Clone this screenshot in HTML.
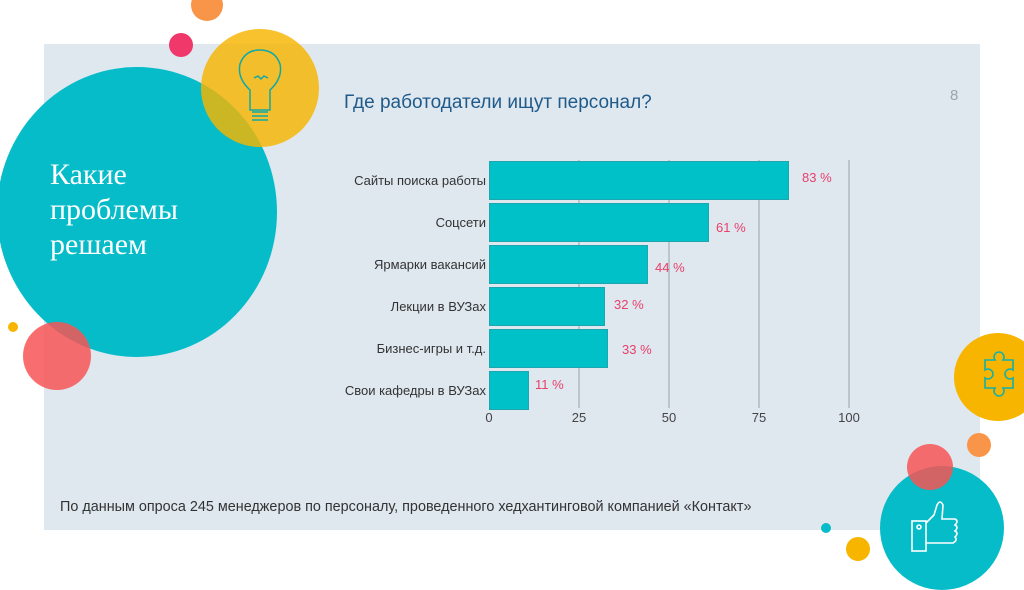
<!DOCTYPE html>
<html><head><meta charset="utf-8"><style>
body{margin:0;width:1024px;height:574px;background:#fff;position:relative;overflow:hidden;font-family:"Liberation Sans","DejaVu Sans",sans-serif}
.a{position:absolute}
.c{position:absolute;border-radius:50%}
</style></head><body>
<div class="a" style="left:44px;top:44px;width:936px;height:486px;background:#dfe7ef"></div>
<div class="c" style="left:-3px;top:67px;width:280px;height:290px;background:#06bcc8"></div>
<div class="c" style="left:201px;top:29px;width:118px;height:118px;background:rgba(247,181,0,0.82)"></div>
<div class="c" style="left:169px;top:33px;width:24px;height:24px;background:#f0386b"></div>
<div class="c" style="left:191px;top:-11px;width:32px;height:32px;background:#f99548"></div>
<div class="c" style="left:23px;top:322px;width:68px;height:68px;background:rgba(247,85,85,0.85)"></div>
<div class="c" style="left:8px;top:322px;width:10px;height:10px;background:#f7b500"></div>
<div class="c" style="left:954px;top:333px;width:88px;height:88px;background:#f7b500"></div>
<div class="c" style="left:967px;top:433px;width:24px;height:24px;background:#f99548"></div>
<div class="c" style="left:880px;top:466px;width:124px;height:124px;background:#06bcc8"></div>
<div class="c" style="left:907px;top:444px;width:46px;height:46px;background:rgba(247,85,85,0.85)"></div>
<div class="c" style="left:821px;top:523px;width:10px;height:10px;background:#06bcc8"></div>
<div class="c" style="left:846px;top:537px;width:24px;height:24px;background:#f7b500"></div>
<svg class="a" style="left:0;top:0" width="1024" height="574">
<g fill="none" stroke="#10a8a8" stroke-width="1.5">
<path d="M250 110 L250 90 Q237 78 240 64 Q245 50 260 50 Q275 50 280 64 Q283 78 270 90 L270 110 Z"/>
<path d="M252 112h16M252 116h16M252 120h16M254 78 l4 -2 3 3 3 -3 4 2"/>
</g>
<g fill="none" stroke="#10b0b0" stroke-width="1.6">
<path d="M985 360 h10 a5 5 0 1 1 8 0 h10 v10 a5 5 0 1 0 0 8 v10 h-10 a5 5 0 1 1 -8 0 h-10 v-10 a5 5 0 1 0 0 -8 z"/>
</g>
<g fill="none" stroke="#fff" stroke-width="1.6">
<rect x="912" y="521" width="14" height="30"/><circle cx="919" cy="527" r="2"/>
<path d="M926 523 l8 -8 l3 -10 q3 -6 6 0 l-1 14 h13 q4 2 0 6 q4 2 0 6 q4 2 0 6 q3 3 -2 6 h-27"/>
</g>
<g stroke="#aab3bb" stroke-width="1.3">
<line x1="579" y1="160" x2="579" y2="408"/><line x1="669" y1="160" x2="669" y2="408"/>
<line x1="759" y1="160" x2="759" y2="408"/><line x1="849" y1="160" x2="849" y2="408"/>
</g>
<g fill="#00c0c8" stroke="#1fa5ad" stroke-width="1">
<rect x="489.5" y="161.5" width="299" height="38"/>
<rect x="489.5" y="203.5" width="219" height="38"/>
<rect x="489.5" y="245.5" width="158" height="38"/>
<rect x="489.5" y="287.5" width="115" height="38"/>
<rect x="489.5" y="329.5" width="118" height="38"/>
<rect x="489.5" y="371.5" width="39" height="38"/>
</g>
<g font-family="Liberation Sans,sans-serif" font-size="13" fill="#333" text-anchor="end">
<text x="486" y="185">Сайты поиска работы</text>
<text x="486" y="227">Соцсети</text>
<text x="486" y="269">Ярмарки вакансий</text>
<text x="486" y="311">Лекции в ВУЗах</text>
<text x="486" y="353">Бизнес-игры и т.д.</text>
<text x="486" y="395">Свои кафедры в ВУЗах</text>
</g>
<g font-family="Liberation Sans,sans-serif" font-size="13" fill="#e8406a">
<text x="802" y="182">83 %</text><text x="716" y="232">61 %</text>
<text x="655" y="272">44 %</text><text x="614" y="309">32 %</text>
<text x="622" y="354">33 %</text><text x="535" y="389">11 %</text>
</g>
<g font-family="Liberation Sans,sans-serif" font-size="13" fill="#444" text-anchor="middle">
<text x="489" y="422">0</text><text x="579" y="422">25</text><text x="669" y="422">50</text><text x="759" y="422">75</text><text x="849" y="422">100</text>
</g>
</svg>
<div class="a" style="left:50px;top:157px;color:#fff;font-family:'Liberation Serif','DejaVu Serif',serif;font-size:30px;line-height:35px">Какие<br>проблемы<br>решаем</div>
<div class="a" style="left:344px;top:92px;color:#1e5a8a;font-size:19px">Где работодатели ищут персонал?</div>
<div class="a" style="left:950px;top:87px;color:#9aa5b0;font-size:15px">8</div>
<div class="a" style="left:60px;top:499px;color:#333;font-size:14.4px">По данным опроса 245 менеджеров по персоналу, проведенного хедхантинговой компанией «Контакт»</div>
</body></html>
